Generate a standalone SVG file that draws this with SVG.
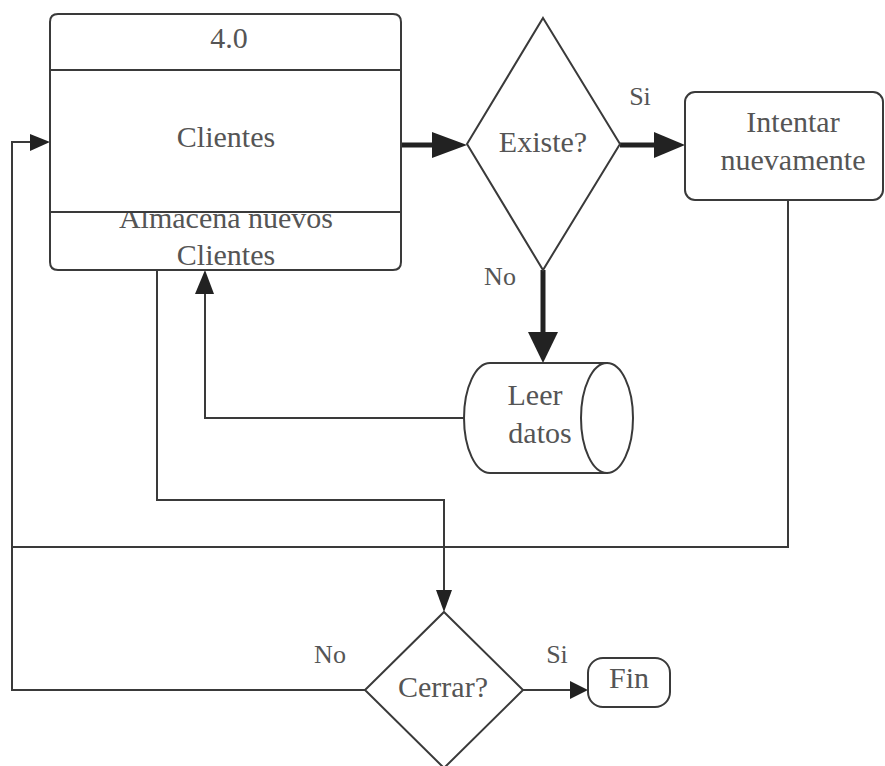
<svg xmlns="http://www.w3.org/2000/svg" width="885" height="766" viewBox="0 0 885 766">
  <style>
    .shape { fill: #ffffff; stroke: #3a3a3a; stroke-width: 2; }
    .line { fill: none; stroke: #3a3a3a; stroke-width: 2; }
    .thick { fill: none; stroke: #222222; stroke-width: 5; }
    .head { fill: #222222; stroke: none; }
    .main { font-size: 30px; }
    .lbl { font-size: 26px; }
  </style>

  <rect width="885" height="766" fill="#ffffff"/>

  <!-- connectors -->
  <g id="connectors">
    <!-- Clientes -> Existe? -->
    <line class="thick" x1="401" y1="145" x2="440" y2="145"/>
    <polygon class="head" points="432,132 467,145 432,158"/>
    <!-- Existe? -> Intentar nuevamente (Si) -->
    <line class="thick" x1="620" y1="145" x2="660" y2="145"/>
    <polygon class="head" points="654,132 685,145 654,158"/>
    <!-- Existe? -> Leer datos (No) -->
    <line class="thick" x1="543" y1="270" x2="543" y2="338"/>
    <polygon class="head" points="528,332 543,363 558,332"/>
    <!-- Leer datos -> Almacena nuevos Clientes -->
    <polyline class="line" points="465,418 205,418 205,290"/>
    <polygon class="head" points="195,294 205,270 214,294"/>
    <!-- Almacena nuevos Clientes -> Cerrar? -->
    <polyline class="line" points="157,270 157,500 444,500 444,594"/>
    <polygon class="head" points="436,590 444,612 452,590"/>
    <!-- Intentar nuevamente -> loop back -->
    <polyline class="line" points="788,200 788,547 12,547"/>
    <!-- Cerrar? (No) -> Clientes -->
    <polyline class="line" points="365,690 12,690 12,142 34,142"/>
    <polygon class="head" points="30,134 50,142 30,151"/>
    <!-- Cerrar? (Si) -> Fin -->
    <line class="line" x1="523" y1="690" x2="574" y2="690"/>
    <polygon class="head" points="570,681 588,690 570,699"/>
  </g>

  <g font-family="Liberation Serif, Times New Roman, serif" fill="#555555" text-anchor="middle">
    <!-- process 4.0 Clientes -->
    <g id="process-clientes">
      <path class="shape" d="M50,212 H401 V262 Q401,270 393,270 H58 Q50,270 50,262 Z"/>
      <text class="main" x="226" y="228">Almacena nuevos</text>
      <text class="main" x="226" y="265">Clientes</text>
      <path class="shape" d="M58,14 H393 Q401,14 401,22 V70 H50 V22 Q50,14 58,14 Z"/>
      <text class="main" x="229" y="48">4.0</text>
      <rect class="shape" x="50" y="70" width="351" height="142"/>
      <text class="main" x="226" y="147">Clientes</text>
    </g>

    <!-- decision Existe? -->
    <g id="decision-existe">
      <polygon class="shape" points="543,18 620,144 543,270 467,144"/>
      <text class="main" x="543" y="152">Existe?</text>
    </g>
    <text class="lbl" x="640" y="105">Si</text>
    <text class="lbl" x="500" y="285">No</text>

    <!-- process Intentar nuevamente -->
    <g id="process-intentar">
      <rect class="shape" x="685" y="92" width="198" height="108" rx="10" ry="10"/>
      <text class="main" x="793" y="132">Intentar</text>
      <text class="main" x="793" y="170">nuevamente</text>
    </g>

    <!-- data store Leer datos -->
    <g id="store-leer">
      <path class="shape" d="M490,363 H607 V473 H490 A26,55 0 0 1 490,363 Z"/>
      <ellipse class="shape" cx="607" cy="418" rx="26" ry="55"/>
      <text class="main" x="535" y="405">Leer</text>
      <text class="main" x="540" y="443">datos</text>
    </g>

    <!-- decision Cerrar? -->
    <g id="decision-cerrar">
      <polygon class="shape" points="444,612 523,690 444,768 365,690"/>
      <text class="main" x="443" y="697">Cerrar?</text>
    </g>
    <text class="lbl" x="330" y="663">No</text>
    <text class="lbl" x="557" y="663">Si</text>

    <!-- terminal Fin -->
    <g id="terminal-fin">
      <rect class="shape" x="588" y="658" width="82" height="49" rx="15" ry="15"/>
      <text class="main" x="629" y="688">Fin</text>
    </g>
  </g>
</svg>
